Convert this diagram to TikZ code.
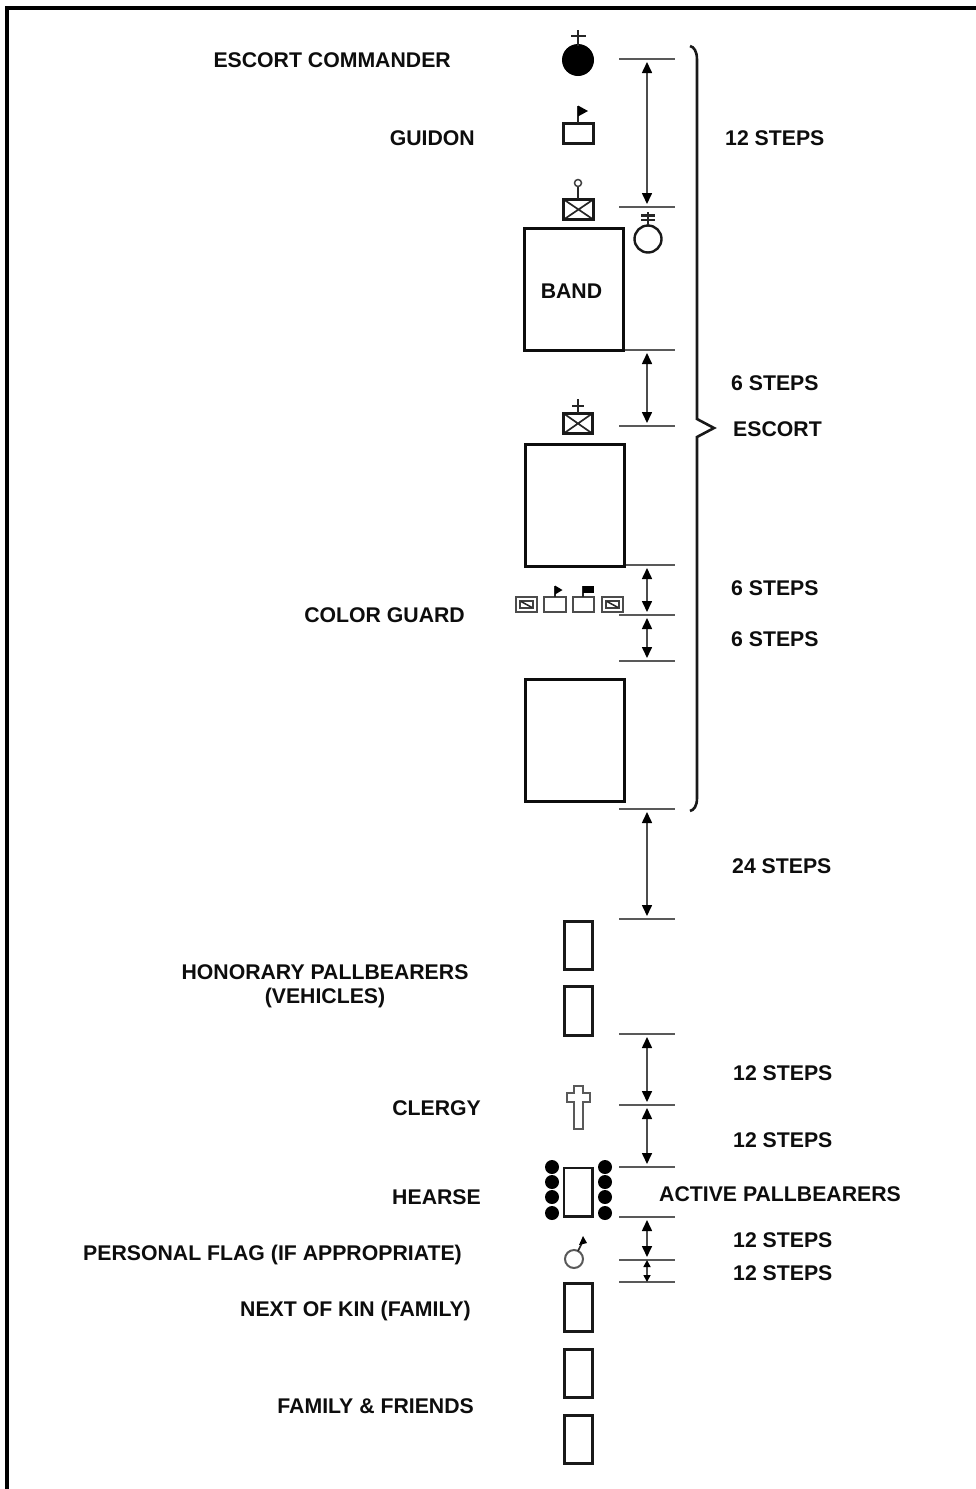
\documentclass[tikz,border=0pt]{standalone}
\usepackage{fontspec}
\setmainfont{Liberation Sans}
\usetikzlibrary{arrows.meta}
\tikzset{
  x=1pt,y=-1pt,
  lab/.style={font=\fontsize{21.25}{24}\selectfont\bfseries,text=black!95,inner sep=0pt,align=center},
  tick/.style={draw=black!65,line width=1.8pt},
  dim/.style={draw=black!70,line width=1.6pt,{Triangle[length=11pt,width=10pt,color=black]}-{Triangle[length=11pt,width=10pt,color=black]},shorten <=3pt,shorten >=3pt},
  dimtight/.style={draw=black!70,line width=1.6pt},
  box/.style={draw=black!95,line width=3pt,inner sep=0pt,fill=white},
  thin box/.style={draw=black!90,line width=3pt},
  stem/.style={draw=black!85,line width=2.2pt},
}
\newcommand{\dimtick}[2]{\coordinate (#1) at (647,#2); \draw[tick] ([xshift=-28pt]#1) -- ([xshift=28pt]#1);}
\begin{document}
\begin{tikzpicture}
\useasboundingbox (0,0) rectangle (976,1489);
% frame
\draw[line width=4.5pt,black] (7,1489) -- (7,8) -- (976,8);
% ticks
\dimtick{t1}{59}\dimtick{t2}{207}\dimtick{t3}{350}\dimtick{t4}{426}
\dimtick{t5}{565}\dimtick{t6}{615}\dimtick{t7}{661}\dimtick{t8}{809}
\dimtick{t9}{919}\dimtick{t10}{1034}\dimtick{t11}{1105}\dimtick{t12}{1167}
\dimtick{t13}{1217}\dimtick{t14}{1260}\dimtick{t15}{1282}
\foreach \a/\b in {t1/t2,t3/t4,t5/t6,t6/t7,t8/t9,t10/t11,t11/t12,t13/t14}{\draw[dim] (\a) -- (\b);}
\draw[dimtight,{Triangle[length=7pt,width=7pt,color=black]}-{Triangle[length=7pt,width=7pt,color=black]}] (t14) -- (t15);
% brace
\draw[black!90,line width=2.6pt,line join=miter]
  (690,46) .. controls (694,47) and (697,51) .. (697,60) -- (697,419) -- (714,428) -- (697,437) -- (697,798)
  .. controls (697,806) and (694,810) .. (690,811);
% big boxes
\draw[box] (524.5,228) rectangle (623.5,350);
\draw[box] (525.5,444.5) rectangle (624.5,566.5);
\draw[box] (525.5,679.5) rectangle (624.5,801.5);
% escort commander
\fill[black] (578,60) circle (16);
\draw[stem] (578,46) -- (578,30) (571,36) -- (586,36);
% guidon
\draw[thin box] (563.5,123.5) rectangle (593.5,143.5);
\draw[stem] (578,123) -- (578,106);
\fill[black] (578,105.5) -- (588,111) -- (578,116.5) -- cycle;
% band leader
\draw[black!85,line width=1.7pt] (563,199) -- (594,220) (563,220) -- (594,199);
\draw[thin box] (563.5,199.5) rectangle (593.5,219.5);
\draw[stem,line width=1.6pt] (578,199) -- (578,187);
\draw[black!75,line width=1.5pt] (578,183) circle (3.5);
% drum major
\draw[black!90,line width=2.4pt] (648,239) circle (13.5);
\draw[stem] (648,225) -- (648,212) (641,215.5) -- (655,215.5) (641,220) -- (655,220);
% commander 2
\draw[black!85,line width=1.7pt] (563,413) -- (593,434) (563,434) -- (593,413);
\draw[thin box] (563.5,413.5) rectangle (592.5,433.5);
\draw[stem] (578,413) -- (578,399) (572,406) -- (584,406);
% color guard
\foreach \l/\r in {516/537,602/623}{
  \draw[black!70,line width=1.9pt] (\l,597) rectangle (\r,612);
  \draw[black!75,line width=1.5pt] (\l+4,601) rectangle (\r-4,608);
  \draw[black!85,line width=1.5pt] (\l+5,601.5) -- (\r-5,607.5);
}
\draw[black!70,line width=1.9pt] (544,597) rectangle (566,612);
\draw[black!70,line width=1.9pt] (573,597) rectangle (594,612);
\draw[stem,line width=1.6pt] (555,597) -- (555,586) (583,597) -- (583,586);
\fill[black] (555,585.5) -- (562.5,590) -- (555,594.5) -- cycle;
\fill[black] (583,586) rectangle (594,592.5);
% vehicles
\foreach \t/\b in {921/969,986/1035,1283/1331,1349/1397,1415/1463}{\draw[thin box] (564,\t) rectangle (592,\b);}
% clergy cross
\draw[black!65,line width=1.8pt,line join=miter] (574,1129) -- (574,1102) -- (567,1102) -- (567,1093) -- (574,1093) -- (574,1086) -- (583,1086) -- (583,1093) -- (590,1093) -- (590,1102) -- (583,1102) -- (583,1129) -- cycle;
% hearse
\draw[black!90,line width=2.6pt] (564,1168) rectangle (592.5,1216.5);
\foreach \x in {552,605}{\foreach \y in {1167,1182,1197,1213}{\fill[black] (\x,\y) circle (7);}}
% personal flag
\draw[black!65,line width=2pt] (574,1259) circle (9);
\draw[stem,line width=1.6pt] (578,1251) -- (582,1243);
\fill[black] (583,1236) -- (587,1243) -- (579,1245) -- cycle;
% labels
\node[lab,anchor=east] (escortcdr) at (451,60) {ESCORT COMMANDER};
\node[lab,anchor=east] (guidon) at (475,138) {GUIDON};
\node[lab] (band) at (571.5,291) {BAND};
\node[lab,anchor=east] (colorguard) at (465,615) {COLOR GUARD};
\node[lab] (honorary) at (325,986) {HONORARY PALLBEARERS\\(VEHICLES)};
\node[lab,anchor=east] (clergy) at (481,1108) {CLERGY};
\node[lab,anchor=east] (hearse) at (481,1197) {HEARSE};
\node[lab,anchor=east] (flag) at (462,1255) {PERSONAL FLAG (IF APPROPRIATE)};
\node[lab,anchor=east] (kin) at (471,1310.5) {NEXT OF KIN (FAMILY)};
\node[lab,anchor=east] (friends) at (474,1406) {FAMILY \& FRIENDS};
\node[lab,anchor=west] (s1) at (725,138) {12 STEPS};
\node[lab,anchor=west] (s2) at (731,383) {6 STEPS};
\node[lab,anchor=west] (esc) at (733,429) {ESCORT};
\node[lab,anchor=west] (s3) at (731,588) {6 STEPS};
\node[lab,anchor=west] (s4) at (731,639) {6 STEPS};
\node[lab,anchor=west] (s5) at (732,866) {24 STEPS};
\node[lab,anchor=west] (s6) at (733,1073) {12 STEPS};
\node[lab,anchor=west] (s7) at (733,1140) {12 STEPS};
\node[lab,anchor=west] (act) at (659,1194) {ACTIVE PALLBEARERS};
\node[lab,anchor=west] (s8) at (733,1240) {12 STEPS};
\node[lab,anchor=west] (s9) at (733,1273) {12 STEPS};
\end{tikzpicture}
\end{document}
